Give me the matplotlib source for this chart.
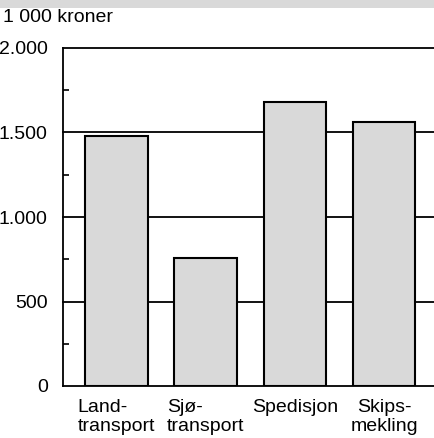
import matplotlib
matplotlib.use("Agg")
import matplotlib.pyplot as plt
from matplotlib.patches import Rectangle
from matplotlib.ticker import FixedLocator

categories = ["Land-\ntransport", "Sjø-\ntransport", "Spedisjon", "Skips-\nmekling"]
values = [1480, 760, 1680, 1565]
yticks = [0, 500, 1000, 1500, 2000]
yticklabels = ["0", "500", "1.000", "1.500", "2.000"]
unit_label = "1 000 kroner"

plt.rcParams['font.family'] = ['Liberation Sans', 'DejaVu Sans']
fs = 14

fig = plt.figure(figsize=(4.35, 4.38), dpi=100)
fig.patches.append(Rectangle((0, 0.982), 1, 0.018, transform=fig.transFigure,
                             facecolor="#d9d9d9", edgecolor="none"))
ax = fig.add_axes([63/435, 52/438, 372/435, 338/438])

x = list(range(len(categories)))
for y in yticks[1:]:
    ax.axhline(y, color="black", lw=1.3, zorder=1, clip_on=False)
ax.bar(x, values, width=0.70, color="#d9d9d9", edgecolor="black", linewidth=1.5, zorder=2)

ax.set_xlim(-0.598, 3.57)
ax.set_ylim(0, 2000)
ax.spines['top'].set_visible(False)
ax.spines['right'].set_visible(False)
ax.spines['left'].set_linewidth(1.3)
ax.spines['bottom'].set_linewidth(1.3)

ax.set_yticks(yticks)
ax.set_yticklabels(yticklabels, fontsize=fs)
ax.yaxis.set_minor_locator(FixedLocator([250, 750, 1250, 1750]))
ax.tick_params(axis='y', which='major', length=0, pad=11)
ax.tick_params(axis='y', which='minor', direction='in', length=4, width=1.2)

ax.set_xticks(x)
labels = ax.set_xticklabels(categories, fontsize=fs, linespacing=1.2)
for i, t in enumerate(labels):
    t.set_multialignment('center' if i == 3 else 'left')
ax.tick_params(axis='x', length=0, pad=9)

fig.text(3/435, 1 - 18/438, unit_label, fontsize=fs, ha='left', va='center')

fig.savefig("out.png", dpi=100)
